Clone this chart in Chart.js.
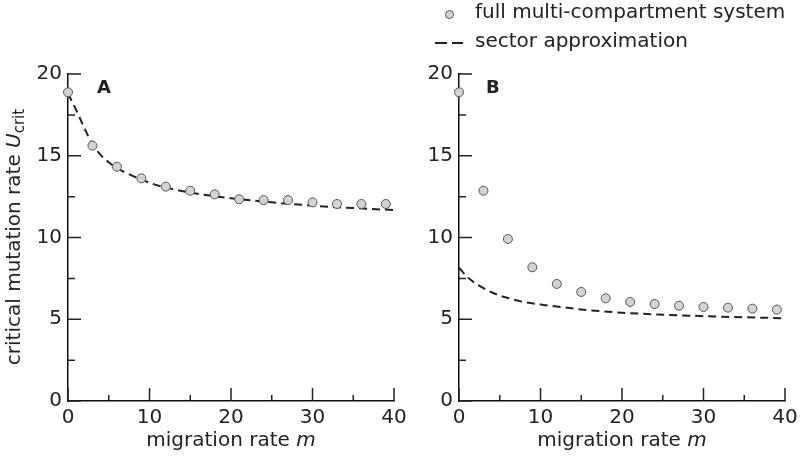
<!DOCTYPE html>
<html lang="en">
<head>
    <meta charset="UTF-8">
    <title>critical mutation rate vs migration rate</title>
    <script src="https://cdn.jsdelivr.net/npm/chart.js"></script>
    <style>
        body {
            margin: 0;
            background: #fff;
            font-family: "DejaVu Sans", sans-serif;
            color: #222;
        }
        #wrap {
            position: relative;
            width: 800px;
            height: 457px;
            overflow: hidden;
        }
        canvas {
            position: absolute;
            top: 0;
        }
        .txt {
            position: absolute;
            font-size: 20px;
            line-height: 20px;
            white-space: nowrap;
        }
        .letter {
            position: absolute;
            font-size: 18px;
            line-height: 18px;
            font-weight: bold;
        }
        .ytitle {
            position: absolute;
            left: -117px;
            top: 225px;
            width: 260px;
            height: 24px;
            line-height: 24px;
            font-size: 20px;
            text-align: center;
            white-space: nowrap;
            transform: rotate(-90deg);
        }
        .ytitle sub {
            font-size: 15px;
            vertical-align: -4px;
        }
        .xtitle {
            position: absolute;
            top: 429px;
            width: 300px;
            text-align: center;
            font-size: 20px;
            line-height: 20px;
        }
        .dot {
            position: absolute;
            left: 444.5px;
            top: 9.5px;
            width: 9px;
            height: 9px;
            box-sizing: border-box;
            border-radius: 50%;
            background: #d3d3d3;
            border: 1px solid #555;
        }
        .dash {
            position: absolute;
            top: 42px;
            height: 2px;
            background: #222;
        }
    </style>
</head>
<body>
<div id="wrap">
    <canvas id="chartA" width="430" height="457" style="left:0"></canvas>
    <canvas id="chartB" width="400" height="457" style="left:400px"></canvas>

    <div class="ytitle">critical mutation rate <i>U</i><sub>crit</sub></div>
    <div class="xtitle" style="left:81px">migration rate <i>m</i></div>
    <div class="xtitle" style="left:472px">migration rate <i>m</i></div>
    <div class="letter" style="left:97px;top:78px">A</div>
    <div class="letter" style="left:486px;top:78px">B</div>

    <div class="dot"></div>
    <div class="txt" style="left:475px;top:1px">full multi-compartment system</div>
    <div class="dash" style="left:435px;width:12px"></div>
    <div class="dash" style="left:452px;width:11px"></div>
    <div class="txt" style="left:475px;top:30px">sector approximation</div>
</div>

<script>
    // simulated points, m = 0, 3, ..., 39
    const migration = [0, 3, 6, 9, 12, 15, 18, 21, 24, 27, 30, 33, 36, 39];
    const fullA = [18.88, 15.62, 14.33, 13.62, 13.11, 12.86, 12.64, 12.34, 12.29, 12.29, 12.15, 12.05, 12.05, 12.05];
    const fullB = [18.88, 12.86, 9.91, 8.18, 7.16, 6.67, 6.28, 6.06, 5.93, 5.83, 5.75, 5.71, 5.65, 5.59];

    // sector approximation curves
    const curveM = [0, 1, 2, 3, 4, 5, 6, 8, 10, 12, 15, 20, 25, 30, 35, 40];
    const sectorA = [18.8, 17.8, 16.7, 15.7, 15.05, 14.6, 14.25, 13.75, 13.35, 13.05, 12.75, 12.4, 12.15, 11.95, 11.8, 11.68];
    const sectorB = [8.15, 7.6, 7.2, 6.9, 6.65, 6.45, 6.3, 6.05, 5.9, 5.78, 5.6, 5.4, 5.28, 5.19, 5.12, 5.06];

    const xTicks = [0, 10, 20, 30, 40];
    const yTicks = [0, 5, 10, 15, 20];

    const tickFont = { family: 'DejaVu Sans', size: 20 };

    // ticks pointing into the plot, long on labelled values
    const innerTicks = {
        id: 'innerTicks',
        afterDatasetsDraw(chart) {
            const ctx = chart.ctx;
            const x = chart.scales.x, y = chart.scales.y;
            const area = chart.chartArea;
            ctx.save();
            ctx.strokeStyle = '#222';
            ctx.lineWidth = 1.5;
            ctx.setLineDash([]);
            ctx.beginPath();
            for (let v = 0; v <= 40; v += 5) {
                const px = x.getPixelForValue(v);
                const len = xTicks.includes(v) ? 13 : 6;
                ctx.moveTo(px, area.bottom);
                ctx.lineTo(px, area.bottom - len);
            }
            for (let v = 0; v <= 20; v += 2.5) {
                const py = y.getPixelForValue(v);
                const len = yTicks.includes(v) ? 13 : 7;
                ctx.moveTo(area.left, py);
                ctx.lineTo(area.left + len, py);
            }
            ctx.stroke();
            ctx.restore();
        }
    };

    function makeChart(id, full, sector, yWidth, rightPad) {
        return new Chart(document.getElementById(id), {
            type: 'scatter',
            data: {
                datasets: [
                    {
                        label: 'full multi-compartment system',
                        data: migration.map((m, i) => ({ x: m, y: full[i] })),
                        pointRadius: 4.5,
                        pointBackgroundColor: '#d3d3d3',
                        pointBorderColor: '#555',
                        pointBorderWidth: 1,
                        clip: false
                    },
                    {
                        label: 'sector approximation',
                        data: curveM.map((m, i) => ({ x: m, y: sector[i] })),
                        showLine: true,
                        pointRadius: 0,
                        borderColor: '#222',
                        borderWidth: 2,
                        borderDash: [8, 5],
                        cubicInterpolationMode: 'monotone',
                        clip: false
                    }
                ]
            },
            options: {
                responsive: false,
                animation: false,
                layout: { padding: { top: 74, right: rightPad, left: 0, bottom: 0 } },
                plugins: {
                    legend: { display: false },
                    tooltip: { enabled: false }
                },
                scales: {
                    x: {
                        type: 'linear',
                        min: 0,
                        max: 40,
                        grid: { display: false, drawTicks: false },
                        border: { display: true, color: '#111', width: 1.5 },
                        ticks: {
                            stepSize: 5,
                            autoSkip: false,
                            maxRotation: 0,
                            padding: 5,
                            color: '#222',
                            font: tickFont,
                            callback: v => xTicks.includes(v) ? String(v) : ''
                        },
                        afterFit(scale) {
                            scale.height = 56;
                            scale.paddingLeft = 0;
                            scale.paddingRight = 0;
                        }
                    },
                    y: {
                        min: 0,
                        max: 20,
                        grid: { display: false, drawTicks: false },
                        border: { display: true, color: '#111', width: 1.5 },
                        ticks: {
                            stepSize: 2.5,
                            autoSkip: false,
                            padding: 6,
                            color: '#222',
                            font: tickFont,
                            callback: v => yTicks.includes(v) ? String(v) : ''
                        },
                        afterFit(scale) {
                            scale.width = yWidth;
                            scale.paddingTop = 0;
                            scale.paddingBottom = 0;
                        }
                    }
                }
            },
            plugins: [innerTicks]
        });
    }

    makeChart('chartA', fullA, sectorA, 68, 36);
    makeChart('chartB', fullB, sectorB, 59, 15);
</script>
</body>
</html>
